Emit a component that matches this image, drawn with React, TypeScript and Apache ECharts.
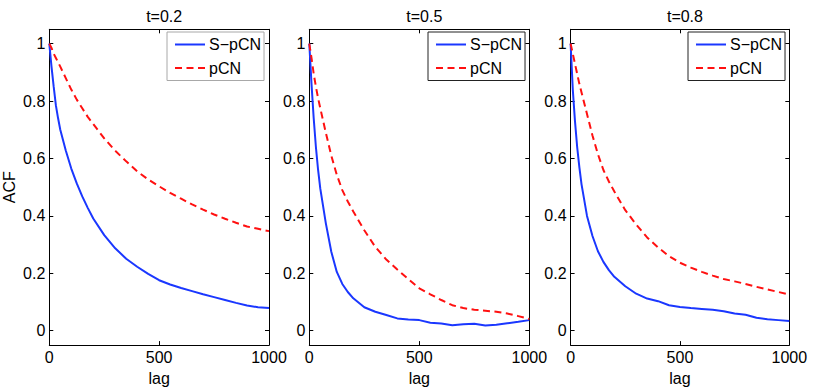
import React, { useEffect, useRef } from "react";
import * as echarts from "echarts";

const lags = [0, 10, 20, 30, 40, 50, 75, 100, 125, 150, 175, 200, 250, 300, 350, 400, 450, 500, 550, 600, 650, 700, 750, 800, 850, 900, 950, 1000];

const spcn02 = [1.0, 0.92, 0.85, 0.785, 0.74, 0.7, 0.628, 0.565, 0.513, 0.468, 0.428, 0.391, 0.333, 0.287, 0.251, 0.223, 0.198, 0.176, 0.161, 0.149, 0.138, 0.127, 0.117, 0.107, 0.097, 0.088, 0.082, 0.079];
const pcn02 = [1.0, 0.985, 0.965, 0.95, 0.935, 0.92, 0.88, 0.84, 0.805, 0.775, 0.745, 0.72, 0.67, 0.627, 0.59, 0.555, 0.527, 0.503, 0.48, 0.46, 0.44, 0.422, 0.405, 0.39, 0.376, 0.363, 0.355, 0.347];

const spcn05 = [1.0, 0.86, 0.74, 0.64, 0.56, 0.495, 0.375, 0.275, 0.205, 0.163, 0.135, 0.113, 0.082, 0.066, 0.055, 0.043, 0.039, 0.037, 0.028, 0.025, 0.019, 0.023, 0.024, 0.018, 0.021, 0.026, 0.031, 0.037];
const pcn05 = [1.0, 0.95, 0.895, 0.85, 0.81, 0.775, 0.69, 0.61, 0.543, 0.49, 0.45, 0.415, 0.35, 0.292, 0.248, 0.213, 0.18, 0.148, 0.127, 0.107, 0.089, 0.079, 0.073, 0.07, 0.066, 0.06, 0.051, 0.041];

const spcn08 = [1.0, 0.84, 0.73, 0.64, 0.57, 0.51, 0.4, 0.33, 0.277, 0.24, 0.211, 0.188, 0.155, 0.129, 0.112, 0.103, 0.089, 0.083, 0.079, 0.076, 0.073, 0.068, 0.06, 0.056, 0.045, 0.04, 0.037, 0.034];
const pcn08 = [1.0, 0.965, 0.93, 0.895, 0.86, 0.83, 0.755, 0.68, 0.615, 0.56, 0.52, 0.485, 0.42, 0.37, 0.325, 0.29, 0.26, 0.237, 0.22, 0.205, 0.192, 0.18, 0.172, 0.163, 0.153, 0.144, 0.135, 0.126];

const titles = ["t=0.2", "t=0.5", "t=0.8"];
const seriesNames = ["S\u2212pCN", "pCN"];
const yTicks = [0, 0.2, 0.4, 0.6, 0.8, 1];
const xTicks = [0, 500, 1000];

const FONT = "'Liberation Sans', Arial, Helvetica, sans-serif";
const BLUE = "#1a37ff";
const RED = "#ff1010";

export default function App() {
  const ref = useRef<HTMLDivElement>(null);
  useEffect(() => {
    document.body.style.margin = "0";
    if (!ref.current) return;
    const chart = echarts.init(ref.current, undefined, { renderer: "svg" });

    const lefts = [49.3, 309.3, 570.6];
    const widths = [219.7, 220, 218.7];
    const top = 29.3;
    const height = 317.7;
    const legendLefts = [167, 428, 688];
    const legendBorders = ["#a8a8a8", "#222", "#222"];
    const blueData = [spcn02, spcn05, spcn08];
    const redData = [pcn02, pcn05, pcn08];

    const grid: any[] = [];
    const xAxis: any[] = [];
    const yAxis: any[] = [];
    const series: any[] = [];
    const title: any[] = [];
    const legend: any[] = [];

    for (let i = 0; i < 3; i++) {
      grid.push({ left: lefts[i], top, width: widths[i], height, containLabel: false });
      const axisCommon = {
        gridIndex: i,
        axisLine: { show: true, onZero: false, lineStyle: { color: "#000", width: 1 } },
        axisTick: { show: true, inside: true, length: 4, lineStyle: { color: "#000" } },
        splitLine: { show: false },
      };
      xAxis.push({
        ...axisCommon,
        type: "value",
        position: "bottom",
        min: xTicks[0],
        max: xTicks[xTicks.length - 1],
        interval: 500,
        name: "lag",
        nameLocation: "middle",
        nameGap: 20,
        nameTextStyle: { fontFamily: FONT, fontSize: 16, color: "#000" },
        axisLabel: {
          show: true,
          margin: 4,
          fontFamily: FONT,
          fontSize: 16,
          color: "#000",
          formatter: (v: number) => String(v),
        },
      });
      xAxis.push({
        ...axisCommon,
        type: "value",
        position: "top",
        min: xTicks[0],
        max: xTicks[xTicks.length - 1],
        interval: 500,
        axisLabel: { show: false },
      });
      yAxis.push({
        ...axisCommon,
        type: "value",
        position: "left",
        min: -0.05,
        max: 1.05,
        name: i === 0 ? "ACF" : "",
        nameLocation: "middle",
        nameGap: 32,
        nameTextStyle: { fontFamily: FONT, fontSize: 16, color: "#000" },
        axisTick: { ...axisCommon.axisTick, customValues: yTicks },
        axisLabel: {
          show: true,
          margin: 4,
          fontFamily: FONT,
          fontSize: 16,
          color: "#000",
          customValues: yTicks,
          formatter: (v: number) => String(v),
        },
      });
      yAxis.push({
        ...axisCommon,
        type: "value",
        position: "right",
        min: -0.05,
        max: 1.05,
        axisTick: { ...axisCommon.axisTick, customValues: yTicks },
        axisLabel: { show: false, customValues: yTicks },
      });
      series.push({
        type: "line",
        name: seriesNames[0],
        xAxisIndex: i * 2,
        yAxisIndex: i * 2,
        data: lags.map((l, k) => [l, blueData[i][k]]),
        showSymbol: false,
        symbol: "none",
        smooth: false,
        lineStyle: { color: BLUE, width: 2 },
        itemStyle: { color: BLUE },
        z: 3,
      });
      series.push({
        type: "line",
        name: seriesNames[1],
        xAxisIndex: i * 2,
        yAxisIndex: i * 2,
        data: lags.map((l, k) => [l, redData[i][k]]),
        showSymbol: false,
        symbol: "none",
        smooth: false,
        lineStyle: { color: RED, width: 2, type: [7, 4.5] },
        itemStyle: { color: RED },
        z: 4,
      });
      title.push({
        text: titles[i],
        left: lefts[i] + widths[i] / 2,
        textAlign: "center",
        top: 3,
        textStyle: { fontFamily: FONT, fontSize: 16, fontWeight: "normal", color: "#000" },
      });
      legend.push({
        orient: "vertical",
        left: legendLefts[i],
        top: 32,
        data: seriesNames,
        selectedMode: false,
        itemWidth: 30,
        itemHeight: 14,
        itemGap: 7.5,
        padding: [4.5, 3, 4.5, 7],
        borderColor: legendBorders[i],
        borderWidth: 1,
        backgroundColor: "#fff",
        itemStyle: { opacity: 0 },
        textStyle: { fontFamily: FONT, fontSize: 16, color: "#000", padding: [0, 0, 0, -1] },
      });
    }

    chart.setOption({
      animation: false,
      backgroundColor: "#fff",
      title,
      legend,
      grid,
      xAxis,
      yAxis,
      series,
    });
    return () => chart.dispose();
  }, []);
  return <div ref={ref} style={{ width: 830, height: 391 }} />;
}
